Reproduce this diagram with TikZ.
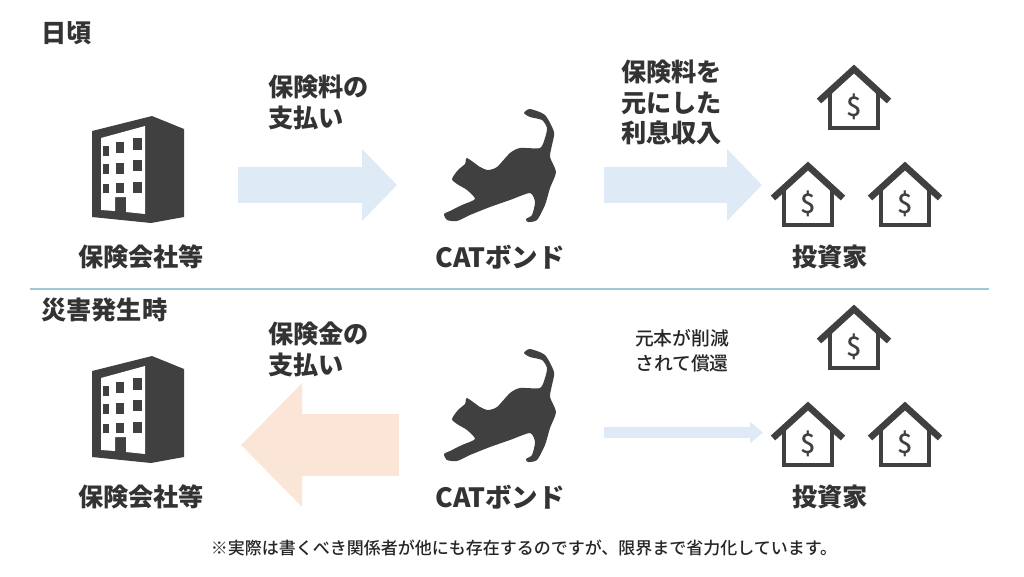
\documentclass[tikz,border=0pt]{standalone}
\usepackage{fontspec}
\setmainfont{Noto Sans CJK JP}
\newfontfamily\medfont{Noto Sans CJK JP Medium}
\usetikzlibrary{
  arrows.meta
}
\definecolor{iconGray}{HTML}{404040}
\definecolor{arrowBlue}{HTML}{DEEAF6}
\definecolor{arrowPeach}{HTML}{FBE5D6}
\definecolor{ruleBlue}{HTML}{9CC9D6}
\tikzset{
  bigLabel/.style={font=\fontsize{25.2}{30.5}\selectfont\bfseries,text=black!80,align=left,inner sep=0pt},
  catLabel/.style={font=\fontsize{26.5}{30}\selectfont\bfseries,text=black!80,inner sep=0pt},
  smallLabel/.style={font=\fontsize{18.8}{25}\selectfont\medfont,text=black!85,align=center,inner sep=0pt},
  noteLabel/.style={font=\fontsize{17}{20}\selectfont\medfont,text=black!85,inner sep=0pt},
  blueArrow/.style={line width=36pt,draw=arrowBlue,-{Triangle[length=35pt,width=70pt]}},
  peachArrow/.style={line width=62pt,draw=arrowPeach,-{Triangle[length=61pt,width=120pt]}},
  thinArrow/.style={line width=11pt,draw=arrowBlue,-{Triangle[length=13pt,width=21pt]}},
  building/.pic={
    \fill[iconGray] (0,15) -- (60,0) -- (92,13) -- (92,101) -- (59,107) -- (0,101) -- cycle;
    \fill[white] (9,22) -- (53,10) -- (53,98) -- (34,96) -- (34,81) -- (23,81) -- (23,95) -- (9,94) -- cycle;
    \foreach \wx/\wy/\ww/\wh in {
      11/30/6/10, 24/26/8/11, 41/22/9/12,
      11/48/6/10, 24/47/8/11, 41/44/9/11,
      11/68/6/9,  24/67/8/10, 41/66/9/11} {
      \fill[iconGray] (\wx,\wy) rectangle ++(\ww,\wh);
    }
  },
  cat/.pic={
    \fill[iconGray] plot[smooth cycle,tension=0.4] coordinates {
      (94,18) (100,14) (115,20) (124,37) (122,50) (120,62) (126,77) (120,93) (115,110)
      (107,125) (98,127) (96,124) (102,120) (105,107) (100,98) (80,105) (60,112) (40,120) (27,126) (17,125) (14,119)
      (20,116) (32,110) (45,104) (37,95) (27,89) (22,84) (28,75) (35,69) (37,63) (50,72) (58,75)
      (67,72) (80,58) (90,53) (110,53) (115,43) (117,33) (112,25) (100,22)};
  },
  house/.pic={
    \draw[iconGray,line width=4.5pt] (-24,-14) -- (-24,21) -- (24,21) -- (24,-14);
    \draw[iconGray,line width=6.5pt] (-35,-6) -- (0,-38) -- (35,-6);
    \node[font=\fontsize{27}{27}\selectfont\medfont,text=iconGray,inner sep=0pt] (dollar) at (0,0) {\$};
  }
}
\begin{document}
\begin{tikzpicture}[x=1pt,y=-1pt]
\useasboundingbox (0,0) rectangle (1024,576);
\node[bigLabel,anchor=west] (dayTitle) at (41,33) {日頃};
\node[bigLabel,anchor=west] (disTitle) at (41,310) {災害発生時};
\coordinate (ruleL) at (30,289);
\coordinate (ruleR) at (989,289);
\draw[ruleBlue,line width=1.2pt] (ruleL) -- (ruleR);
% upper row
\pic at (92,116) {building};
\pic at (430,95) {cat};
\pic (houseA) at (854,107) {house};
\pic (houseB) at (808,204) {house};
\pic (houseC) at (905,204) {house};
\node[bigLabel] (insA) at (141,257) {保険会社等};
\node[catLabel] (catA) at (500,257) {CATボンド};
\node[bigLabel] (invA) at (830,257) {投資家};
\node[bigLabel,anchor=north west] (feeLabel) at (268,75) {保険料の\\支払い};
\node[bigLabel,anchor=north west] (rateLabel) at (621,60) {保険料を\\元にした\\利息収入};
\coordinate (feeS) at (238,185);
\coordinate (feeE) at (397,185);
\coordinate (rateS) at (604,185);
\coordinate (rateE) at (762,185);
\draw[blueArrow] (feeS) -- (feeE);
\draw[blueArrow] (rateS) -- (rateE);
% lower row
\pic at (92,356) {building};
\pic at (430,335) {cat};
\pic (houseD) at (854,347) {house};
\pic (houseE) at (808,444) {house};
\pic (houseF) at (905,444) {house};
\node[bigLabel] (insB) at (141,497) {保険会社等};
\node[catLabel] (catB) at (500,497) {CATボンド};
\node[bigLabel] (invB) at (830,497) {投資家};
\node[bigLabel,anchor=north west] (payLabel) at (268,322) {保険金の\\支払い};
\node[smallLabel] (cutLabel) at (682,351) {元本が削減\\されて償還};
\coordinate (payS) at (399,445);
\coordinate (payE) at (241,445);
\coordinate (cutS) at (604,432.5);
\coordinate (cutE) at (763,432.5);
\draw[peachArrow] (payS) -- (payE);
\draw[thinArrow] (cutS) -- (cutE);
\node[noteLabel] (noteText) at (524,548) {※実際は書くべき関係者が他にも存在するのですが、限界まで省力化しています。};
\end{tikzpicture}
\end{document}
